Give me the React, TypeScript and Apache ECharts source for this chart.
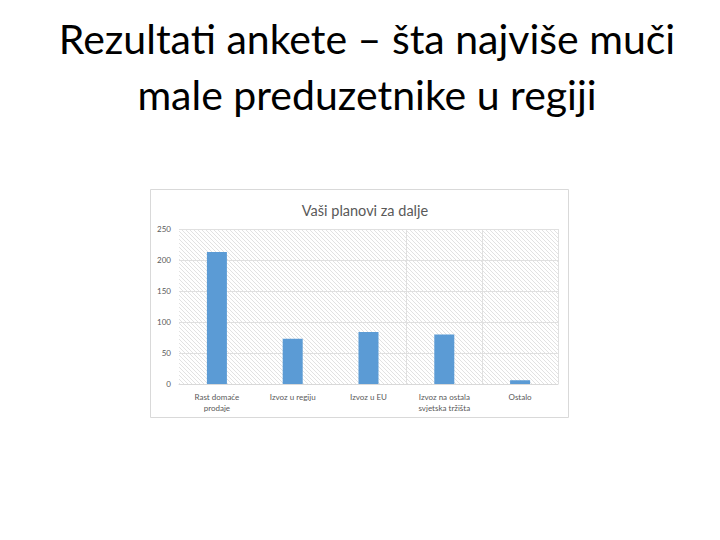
import { useEffect, useRef } from 'react'
import * as echarts from 'echarts'

// slide: Rezultati ankete — "Vaši planovi za dalje"
const CATEGORIES = [
  'Rast domaće\nprodaje',
  'Izvoz u regiju',
  'Izvoz u EU',
  'Izvoz na ostala\nsvjetska tržišta',
  'Ostalo',
]
const VALUES = [213, 73, 84, 80, 6]
const Y_TICKS = { min: 0, max: 250, interval: 50 }

const SLIDE_TITLE = ['Rezultati ankete – šta najviše muči', 'male preduzetnike u regiji']
const CHART_TITLE = 'Vaši planovi za dalje'

const BAR_COLOR = '#5b9bd5'
const TEXT_COLOR = '#595959'
const GRID_COLOR = '#d9d9d9'

// diagonal hatch, like the Office chart fill
function makeHatch(): HTMLCanvasElement {
  const c = document.createElement('canvas')
  c.width = 4
  c.height = 4
  const ctx = c.getContext('2d')!
  ctx.fillStyle = '#ffffff'
  ctx.fillRect(0, 0, 4, 4)
  ctx.strokeStyle = '#e2e2e2'
  ctx.lineWidth = 1
  ctx.beginPath()
  ctx.moveTo(0, 0)
  ctx.lineTo(4, 4)
  ctx.moveTo(-1, 3)
  ctx.lineTo(1, 5)
  ctx.moveTo(3, -1)
  ctx.lineTo(5, 1)
  ctx.stroke()
  return c
}

export default function App() {
  const ref = useRef<HTMLDivElement>(null)

  useEffect(() => {
    document.body.style.margin = '0'
    if (!ref.current) return
    const chart = echarts.init(ref.current, undefined, { renderer: 'svg' })

    const option: echarts.EChartsOption = {
      animation: false,
      backgroundColor: '#ffffff',
      textStyle: { fontFamily: 'Lato, "Open Sans", sans-serif' },
      title: [
        {
          text: SLIDE_TITLE.join('\n'),
          left: 362,
          top: 5,
          textAlign: 'center',
          textStyle: {
            fontFamily: 'Lato, sans-serif',
            fontWeight: 'normal',
            fontSize: 41,
            lineHeight: 56,
            color: '#000000',
          },
        },
        {
          text: CHART_TITLE,
          left: 360,
          top: 198,
          textAlign: 'center',
          textStyle: {
            fontFamily: 'Lato, sans-serif',
            fontWeight: 'normal',
            fontSize: 14.5,
            color: TEXT_COLOR,
          },
        },
      ],
      graphic: [
        {
          type: 'rect',
          z: -1,
          shape: { x: 150.5, y: 189.5, width: 418, height: 228 },
          style: { fill: '#ffffff', stroke: GRID_COLOR, lineWidth: 1 },
        },
      ],
      grid: {
        left: 179,
        right: 162,
        top: 229,
        bottom: 156,
        show: true,
        borderWidth: 0,
        backgroundColor: { image: makeHatch(), repeat: 'repeat' } as any,
      },
      xAxis: {
        type: 'category',
        data: CATEGORIES,
        axisLine: { lineStyle: { color: GRID_COLOR, width: 1 } },
        axisTick: { show: false },
        splitLine: {
          show: true,
          interval: (i: number) => i >= 3,
          lineStyle: { color: '#e0e0e0', width: 1 },
        },
        axisLabel: {
          color: TEXT_COLOR,
          fontSize: 8,
          lineHeight: 11,
          margin: 7,
          interval: 0,
        },
      },
      yAxis: {
        type: 'value',
        min: Y_TICKS.min,
        max: Y_TICKS.max,
        interval: Y_TICKS.interval,
        axisLine: { show: false },
        axisTick: { show: false },
        axisLabel: { color: TEXT_COLOR, fontSize: 8, margin: 8 },
        splitLine: { lineStyle: { color: '#e0e0e0', width: 1 } },
      },
      series: [
        {
          type: 'bar',
          data: VALUES,
          barWidth: 20,
          itemStyle: { color: BAR_COLOR },
        },
      ],
    }

    chart.setOption(option)
    return () => chart.dispose()
  }, [])

  return <div ref={ref} style={{ width: 720, height: 540 }} />
}
